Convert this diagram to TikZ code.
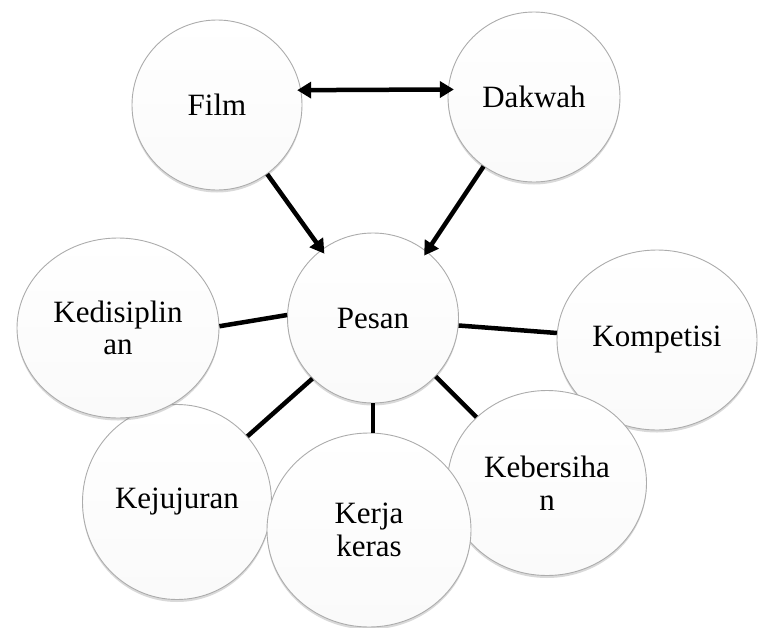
\documentclass[tikz,border=0pt]{standalone}
\usepackage{fontspec}
\setmainfont{Liberation Serif}
\usetikzlibrary{shapes.geometric,shadows,arrows.meta}
\tikzset{
    bubble-node/.style = {draw=gray!65, line width=0.9pt, ellipse, inner sep=0pt, align=center, top color=white, bottom color=gray!4, drop shadow={shadow xshift=0pt, shadow yshift=-2.5pt, opacity=0.3}, font=\fontsize{31}{32.5}\selectfont},
    link-line/.style = {line width=4.5pt},
    link-arrow/.style = {line width=4.5pt, -{Triangle[length=14pt, width=16pt]}, shorten >=-5pt},
    link-both/.style = {line width=4.5pt, {Triangle[length=14pt, width=16pt]}-{Triangle[length=14pt, width=16pt]}, shorten >=-6pt, shorten <=-4pt},
}
\begin{document}
\begin{tikzpicture}[x=1pt, y=-1pt]
\useasboundingbox (0,0) rectangle (758,627);
\node[bubble-node, minimum width=200pt, minimum height=180pt] (kompetisi) at (657,340) {Kompetisi};
\node[bubble-node, minimum width=199pt, minimum height=185pt] (kebersihan) at (547,483) {Kebersiha\\n};
\node[bubble-node, minimum width=189pt, minimum height=195pt] (kejujuran) at (177,502) {Kejujuran};
\node[bubble-node, minimum width=204pt, minimum height=194pt] (kerja) at (369,530) {Kerja\\keras};
\node[bubble-node, minimum width=202pt, minimum height=180pt] (kedisiplinan) at (118,328) {Kedisiplin\\an};
\node[bubble-node, minimum width=171pt, minimum height=170pt] (pesan) at (373,318) {Pesan};
\node[bubble-node, minimum width=170pt, minimum height=170pt] (film) at (217,105) {Film};
\node[bubble-node, minimum width=172pt, minimum height=170pt] (dakwah) at (534,97) {Dakwah};
\draw[link-both] (film.10) -- (dakwah.175);
\draw[link-arrow] (film.-54) -- (pesan.127);
\draw[link-arrow] (dakwah.-126) -- (pesan.51);
\draw[link-line] (kedisiplinan.1) -- (pesan.178);
\draw[link-line] (pesan.225) -- (kejujuran.43);
\draw[link-line] (pesan.south) -- (pesan.south |- kerja.north);
\draw[link-line] (pesan.-43) -- (kebersihan.137);
\draw[link-line] (pesan.-5) -- (kompetisi.176);
\end{tikzpicture}
\end{document}
